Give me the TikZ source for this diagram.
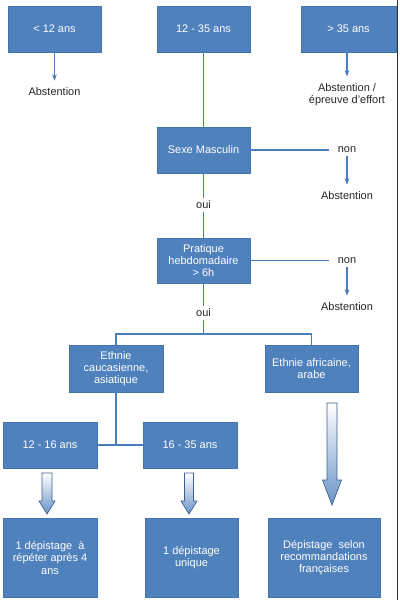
\documentclass[tikz,border=0pt]{standalone}
\usepackage{fontspec}
\setmainfont{Liberation Sans}
\usetikzlibrary{
    arrows.meta,
    positioning,
    calc
}
\definecolor{boxblue}{HTML}{4F81BD}
\definecolor{boxedge}{HTML}{4674AD}
\definecolor{lineblue}{HTML}{4A7EBB}
\definecolor{arrowedge}{HTML}{3F5F8F}
\definecolor{textgray}{HTML}{262626}

% block arrow: centre x, top, head base, tip, half shaft, half head
\newcommand{\blockarrow}[6]{%
    \draw[bigarrow] (#1-#5,#2) -- (#1+#5,#2) -- (#1+#5,#3) -- (#1+#6,#3)
        -- (#1,#4) -- (#1-#6,#3) -- (#1-#5,#3) -- cycle;}

\begin{document}
\begin{tikzpicture}[
    x=0.025cm, y=-0.025cm,
    font=\fontsize{7.8}{8.6}\selectfont,
    box/.style={
        rectangle,
        minimum width=2.325cm,
        minimum height=1.15cm,
        inner sep=1pt,
        align=center,
        text=white,
        draw=boxedge,
        fill=boxblue,
        line width=0.5pt
    },
    note/.style={
        align=center,
        inner sep=2pt,
        text=textgray
    },
    link/.style={
        draw=lineblue,
        line width=0.9pt
    },
    arrow/.style={
        link,
        shorten >=3pt,
        -{Stealth[length=1.6mm,width=1.2mm]}
    },
    bigarrow/.style={
        draw=arrowedge,
        line width=0.5pt,
        top color=white,
        bottom color=boxblue!85,
        line join=miter
    }
]
\useasboundingbox (0,0) rectangle (400,600);

% =====================================================
% Age groups
% =====================================================

\node[box] (young) at (54.5,29) {< 12 ans};
\node[box] (mid) at (203.5,29) {12 - 35 ans};
\node[box, minimum width=2.375cm] (old) at (348.5,29) {> 35 ans};

\node[note] (abst1) at (54.5,92) {Abstention};
\node[note] (abst2) at (347,95) {Abstention /\\épreuve d'effort};

% =====================================================
% Questions
% =====================================================

\node[box] (male) at (203.5,150) {Sexe Masculin};
\node[note] (non1) at (347,150) {non};
\node[note] (abst3) at (347,196) {Abstention};
\node[note] (oui1) at (203.5,205) {oui};

\node[box, minimum height=1.125cm] (sport) at (203.5,260.5)
{Pratique\\hebdomadaire\\> 6h};
\node[note] (non2) at (347,260.5) {non};
\node[note] (abst4) at (347,307) {Abstention};
\node[note] (oui2) at (203.5,313) {oui};

\coordinate (split) at (203.5,334);

% =====================================================
% Ethnic groups
% =====================================================

\node[box, minimum width=2.35cm, minimum height=1.175cm] (cauc) at (116,368.5)
{Ethnie\\caucasienne,\\asiatique};
\node[box, minimum height=1.175cm] (afric) at (311.5,368.5)
{Ethnie africaine,\\arabe};

\coordinate (junction) at (116,445);

\node[box, minimum width=2.35cm] (teen) at (50,445) {12 - 16 ans};
\node[box, minimum width=2.35cm] (adult) at (190,445) {16 - 35 ans};

% =====================================================
% Outcomes
% =====================================================

\node[box, minimum width=2.35cm, minimum height=1.975cm] (repeat) at (50,558)
{1 dépistage\ \ à\\répéter après 4\\ans};
\node[box, minimum height=1.975cm] (single) at (191.5,558)
{1 dépistage\\unique};
\node[box, minimum width=2.8cm, minimum height=1.975cm] (french) at (324,558)
{Dépistage\ \ selon\\recommandations\\françaises};

% =====================================================
% Connectors
% =====================================================

\draw[arrow] (young) -- (abst1);
\draw[arrow] (old.south -| abst2) -- (abst2);

\draw[link] (mid) -- (male);
\draw[link, shorten >=4pt] (male) -- (non1);
\draw[arrow] (non1) -- (abst3);
\draw[link] (male) -- (oui1);
\draw[link] (oui1) -- (sport);

\draw[link, shorten >=4pt] (sport) -- (non2);
\draw[arrow] (non2) -- (abst4);
\draw[link] (sport) -- (oui2);
\draw[link] (oui2) -- (split);
\draw[link] (cauc.north) |- (split) -| (afric.north);

\draw[link] (cauc) -- (junction);
\draw[link] (teen) -- (adult);

% =====================================================
% Block arrows
% =====================================================

\blockarrow{47}{473}{501}{514}{5}{8}
\blockarrow{189}{473}{501}{514}{4.5}{8}
\blockarrow{332}{403}{480}{505}{5}{9.5}

\draw[black!80, line width=0.8pt] (397.5,0) -- (397.5,600);

\end{tikzpicture}
\end{document}
